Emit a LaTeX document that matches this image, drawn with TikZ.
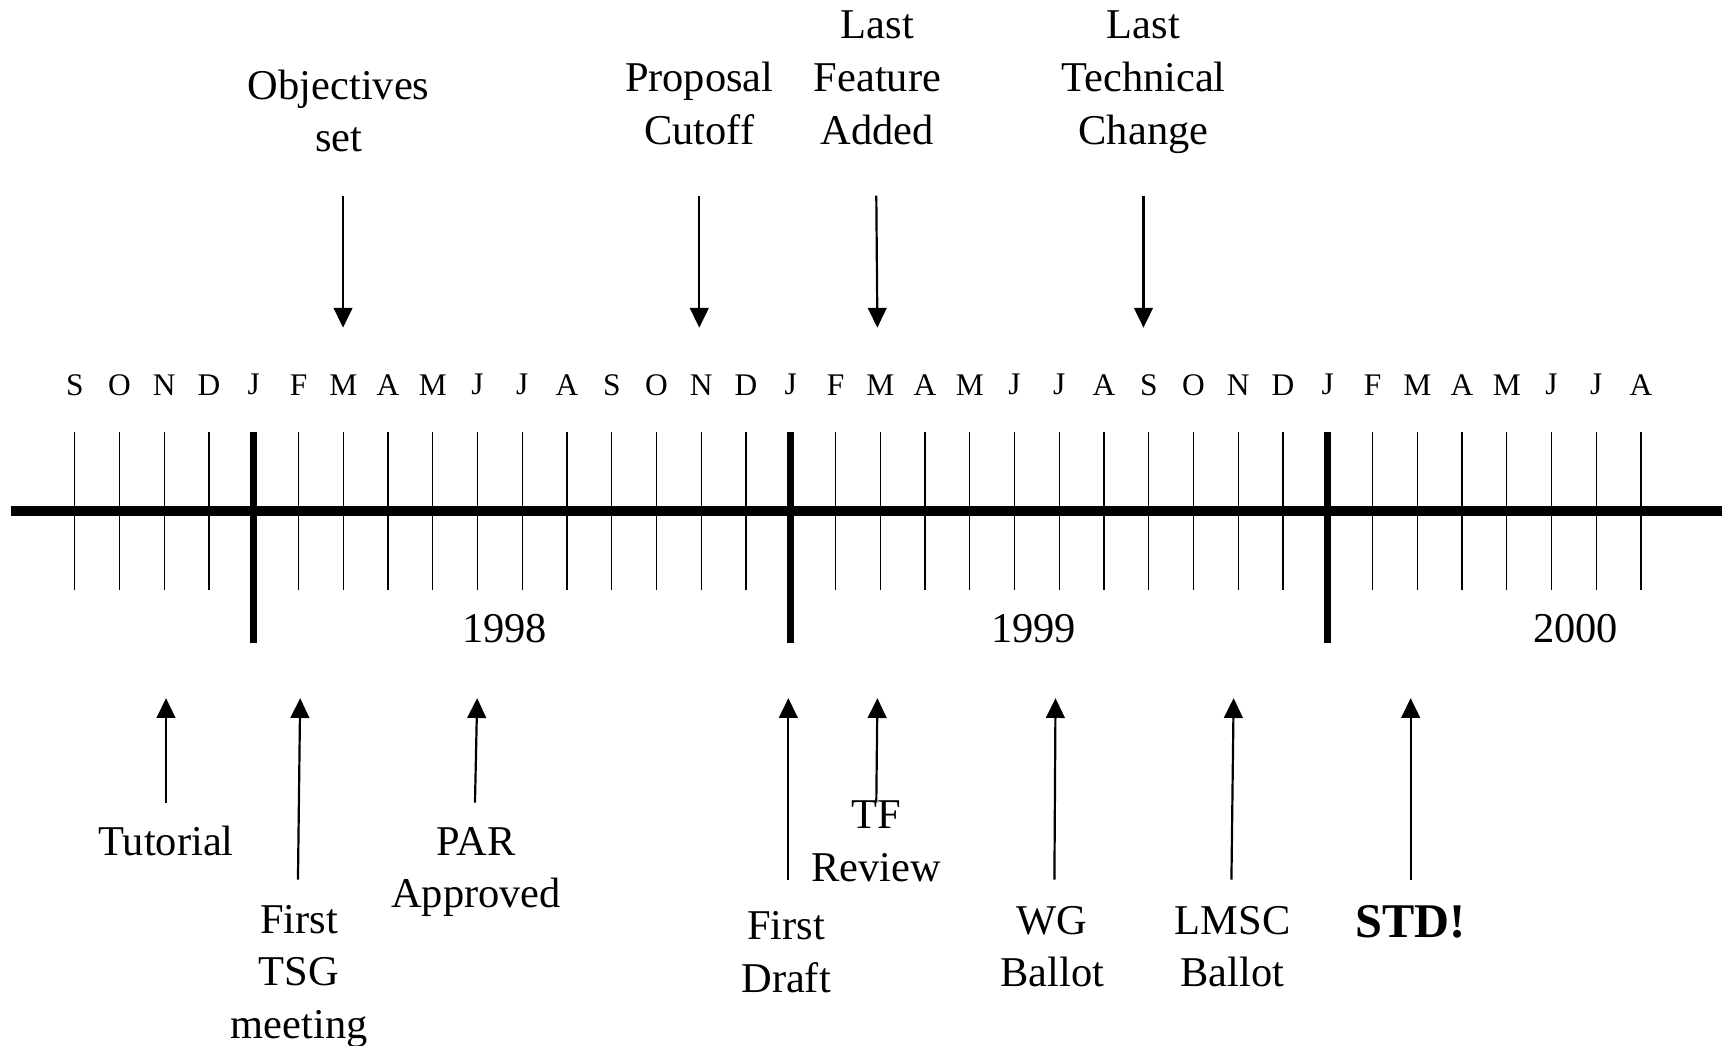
\documentclass[tikz,border=0pt]{standalone}
\usepackage{fontspec}
\setmainfont{Liberation Serif}
\usetikzlibrary{arrows.meta}
\begin{document}
\begin{tikzpicture}[x=0.5pt,y=0.5pt,
  lbl/.style={font=\fontsize{19.3}{24}\selectfont, align=center, inner sep=0pt},
  mon/.style={font=\fontsize{14.3}{16}\selectfont, inner sep=0pt},
  arr/.style={line width=1pt, -{Triangle[length=9pt,width=8.5pt]}},
  thintick/.style={line width=0.65pt},
  thicktick/.style={line width=3pt}]
\useasboundingbox (0,0) rectangle (1568,-951);
% main axis
\draw[line width=4.5pt] (10,-465) -- (1566,-465);
% months and ticks
\foreach \m [count=\i from 0] in {S,O,N,D,J,F,M,A,M,J,J,A,S,O,N,D,J,F,M,A,M,J,J,A,S,O,N,D,J,F,M,A,M,J,J,A} {
  \pgfmathsetmacro\xx{68+40.7*\i}
  \node[mon] (m\i) at (\xx,-350) {\m};
  \draw[thintick] (\xx,-393) -- (\xx,-537);
}
\foreach \i in {4,16,28} {
  \pgfmathsetmacro\xx{68+40.7*\i}
  \draw[thicktick] (\xx,-393) -- (\xx,-585);
}
% years
\node[lbl] (y98) at (459,-572) {1998};
\node[lbl] (y99) at (940,-572) {1999};
\node[lbl] (y00) at (1433,-572) {2000};
% top labels
\node[lbl] (obj) at (308,-101) {Objectives\\set};
\node[lbl] (prop) at (636,-94) {Proposal\\Cutoff};
\node[lbl] (feat) at (798,-71) {Last\\Feature\\Added};
\node[lbl] (tech) at (1040,-75) {Last\\Technical\\Change};
% bottom labels
\node[lbl] (tut) at (151,-765) {Tutorial};
\node[lbl] (tsg) at (272,-888) {First\\TSG\\meeting};
\node[lbl] (par) at (433,-793) {PAR\\Approved};
\node[lbl] (draft) at (715,-866) {First\\Draft};
\node[lbl] (tf) at (797,-765) {TF\\Review};
\node[lbl] (wg) at (957,-861) {WG\\Ballot};
\node[lbl] (lmsc) at (1121,-861) {LMSC\\Ballot};
\node[lbl,font=\fontsize{22}{26}\selectfont\bfseries] (std) at (1283,-838) {STD!};
% top arrows
\coordinate (t1s) at (312,-178); \coordinate (t1e) at (312,-298);
\coordinate (t2s) at (636,-178); \coordinate (t2e) at (636,-298);
\coordinate (t3s) at (797,-178); \coordinate (t3e) at (798,-298);
\coordinate (t4s) at (1040,-178); \coordinate (t4e) at (1040,-298);
\foreach \k in {1,2,3,4} \draw[arr] (t\k s) -- (t\k e);
% bottom arrows
\coordinate (b1s) at (151,-730); \coordinate (b1e) at (151,-635);
\coordinate (b2s) at (271,-800); \coordinate (b2e) at (273,-635);
\coordinate (b3s) at (432,-730); \coordinate (b3e) at (434,-635);
\coordinate (b4s) at (717,-800); \coordinate (b4e) at (717,-635);
\coordinate (b5s) at (797,-730); \coordinate (b5e) at (798,-635);
\coordinate (b6s) at (959,-800); \coordinate (b6e) at (960,-635);
\coordinate (b7s) at (1120,-800); \coordinate (b7e) at (1122,-635);
\coordinate (b8s) at (1283,-800); \coordinate (b8e) at (1283,-635);
\foreach \k in {1,...,8} \draw[arr] (b\k s) -- (b\k e);
\end{tikzpicture}
\end{document}
